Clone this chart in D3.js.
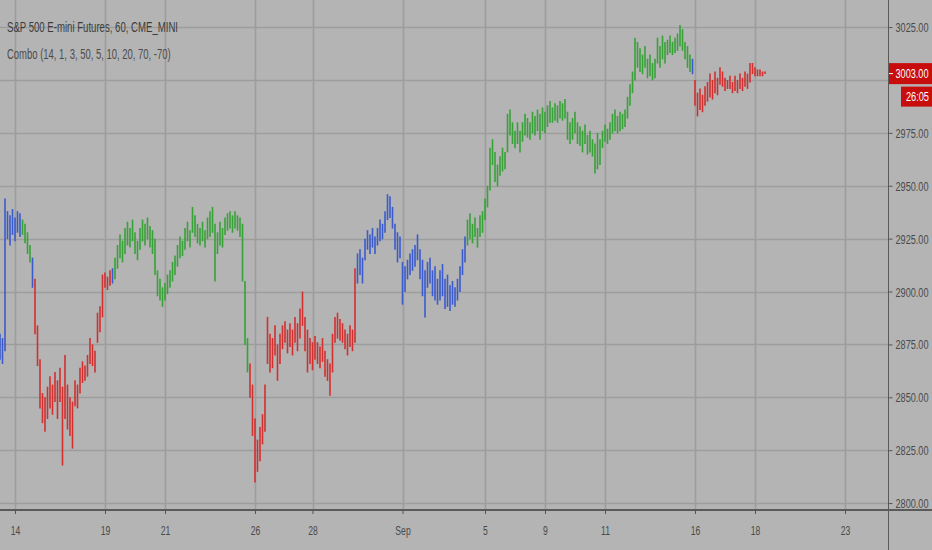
<!DOCTYPE html>
<html><head><meta charset="utf-8">
<script src="https://cdn.jsdelivr.net/npm/d3@7"></script>
<style>html,body{margin:0;padding:0;background:#b4b4b4;overflow:hidden} svg{display:block}</style>
</head><body><svg id="c" width="932" height="550"></svg>
<script>
const title = "S&P 500 E-mini Futures, 60, CME_MINI";
const study = "Combo (14, 1, 3, 50, 5, 10, 20, 70, -70)";
const priceTicks = [2800, 2825, 2850, 2875, 2900, 2925, 2950, 2975, 3000, 3025];
const priceLabels = [2800, 2825, 2850, 2875, 2900, 2925, 2950, 2975, 3025];
const dateLabels = ["14","19","21","26","28","Sep","5","9","11","16","18","23"];
const dateIndex = [6, 42, 66, 102, 125, 161, 194, 218, 242, 278, 302, 338];
const lastPrice = 3003.00;
const countdown = "26:05";

const barHigh = [
2880,2878,2944,2938,2936,2939,2935,2938,2937,2934,2932,2928,2922,2916,2906,2884,2868,2852,2850,2855,
2860,2856,2862,2858,2864,2855,2870,2856,2850,2848,2858,2856,2864,2867,2865,2870,2878,2875,2872,2890,
2893,2908,2909,2907,2910,2911,2916,2922,2927,2924,2930,2933,2930,2934,2928,2924,2930,2934,2932,2935,
2931,2929,2925,2910,2906,2902,2904,2908,2910,2914,2917,2922,2926,2924,2930,2933,2929,2940,2936,2932,
2930,2933,2929,2935,2938,2940,2932,2928,2933,2930,2935,2937,2938,2936,2938,2936,2935,2932,2905,2878,
2866,2856,2840,2830,2836,2842,2856,2888,2880,2878,2884,2875,2880,2884,2886,2882,2885,2882,2888,2885,
2892,2900,2888,2882,2878,2876,2879,2876,2874,2878,2872,2868,2866,2880,2888,2890,2887,2885,2882,2880,
2884,2882,2911,2918,2920,2916,2925,2929,2927,2930,2926,2930,2934,2932,2938,2946,2945,2940,2932,2928,
2926,2914,2912,2915,2918,2920,2922,2927,2920,2915,2910,2914,2916,2910,2912,2906,2910,2913,2906,2908,
2903,2905,2902,2906,2912,2920,2926,2934,2937,2932,2935,2930,2936,2938,2944,2950,2968,2972,2966,2960,
2964,2968,2966,2984,2986,2980,2976,2980,2976,2980,2984,2982,2980,2985,2983,2986,2984,2987,2985,2988,
2990,2987,2989,2988,2990,2989,2991,2985,2980,2982,2985,2980,2978,2976,2979,2974,2976,2972,2970,2975,
2972,2976,2979,2977,2980,2984,2986,2983,2985,2984,2986,2992,2998,3004,3020,3018,3015,3012,3016,3010,
3012,3008,3010,3020,3016,3021,3018,3019,3021,3018,3020,3022,3026,3024,3018,3016,3012,3010,3000,2994,
2996,2993,2997,2999,3003,3000,3004,3001,3006,3004,3001,3000,3002,2999,3002,3000,3003,3001,3004,3003,
3008,3008,3006,3005,3005,3004,3004
];
const barLow = [
2868,2866,2872,2925,2922,2927,2924,2928,2926,2927,2923,2918,2914,2902,2880,2865,2845,2838,2834,2840,
2845,2842,2848,2840,2848,2818,2840,2835,2832,2826,2846,2845,2852,2857,2858,2860,2866,2865,2862,2876,
2881,2888,2902,2901,2903,2904,2906,2911,2916,2914,2918,2922,2921,2924,2918,2915,2920,2924,2922,2925,
2921,2918,2908,2898,2896,2893,2896,2899,2902,2905,2908,2912,2916,2917,2920,2924,2921,2928,2926,2923,
2922,2924,2921,2925,2926,2928,2905,2918,2922,2921,2927,2929,2930,2928,2930,2929,2926,2905,2875,2862,
2850,2832,2810,2815,2820,2828,2834,2866,2862,2864,2870,2858,2866,2873,2876,2871,2874,2870,2876,2872,
2878,2884,2872,2862,2866,2863,2868,2866,2864,2867,2860,2858,2851,2862,2876,2878,2877,2876,2873,2870,
2874,2872,2876,2904,2908,2904,2915,2920,2918,2921,2918,2922,2924,2925,2928,2934,2935,2930,2920,2914,
2916,2894,2900,2906,2908,2910,2912,2915,2906,2898,2888,2902,2904,2898,2896,2894,2896,2898,2892,2893,
2891,2894,2893,2896,2900,2908,2914,2922,2925,2923,2926,2921,2926,2928,2934,2940,2948,2960,2952,2950,
2955,2957,2958,2966,2974,2970,2968,2970,2966,2971,2974,2973,2972,2975,2974,2976,2972,2976,2975,2978,
2980,2980,2981,2980,2982,2981,2982,2972,2970,2972,2975,2970,2969,2966,2970,2965,2966,2964,2956,2958,
2960,2968,2971,2970,2972,2975,2976,2975,2976,2977,2978,2982,2988,2994,3000,3006,3004,3003,3006,3001,
3002,3000,3001,3008,3006,3010,3008,3012,3013,3012,3013,3014,3016,3014,3010,3006,3004,3003,2988,2983,
2986,2985,2988,2990,2992,2991,2994,2993,2998,2997,2995,2996,2996,2994,2995,2994,2996,2995,2997,2996,
2999,3003,3002,3002,3002,3002,3003
];
const segStart = [0, 9, 13, 14, 45, 46, 100, 143, 187, 277, 278];
const segState = ["blue","green","blue","red","blue","green","red","blue","green","blue","red"];
const stateColor = {blue: "#3a5bcc", green: "#37a337", red: "#d22f2f"};

const W = 932, H = 550, plotR = 888, plotB = 509;
const svg = d3.select("#c");
const font = "'Liberation Sans','Open Sans',sans-serif";

// squeeze a text horizontally (narrow UI font look); anchor point stays at (ax, ay)
function squeeze(node, ax, ay, factor) {
  const t = d3.select(node);
  t.attr("x", 0).attr("y", 0).attr("transform", `translate(${ax},${ay}) scale(${factor},1)`);
}
function squeezeTo(node, ax, ay, width) {
  const w = node.getComputedTextLength();
  squeeze(node, ax, ay, width / w);
}

const x = d3.scaleLinear().domain([0, 355.2]).range([0, plotR]);
const y = d3.scaleLinear().domain([2797.2, 3037.8]).range([plotB, 0]);

svg.append("rect").attr("width", W).attr("height", H).attr("fill", "#b4b4b4");

// grid
const grid = svg.append("g");
grid.selectAll("line.h").data(priceTicks).join("line")
  .attr("x1", 0).attr("x2", plotR).attr("y1", d => Math.round(y(d)) + 0.5).attr("y2", d => Math.round(y(d)) + 0.5)
  .attr("stroke", "#9d9d9d").attr("stroke-width", 1.6);
grid.selectAll("line.v").data(dateIndex).join("line")
  .attr("y1", 0).attr("y2", plotB).attr("x1", d => Math.round(x(d)) + 0.5).attr("x2", d => Math.round(x(d)) + 0.5)
  .attr("stroke", "#9d9d9d").attr("stroke-width", 1.6);

// bars
function stateAt(i) {
  let s = segState[0];
  for (let k = 0; k < segStart.length; k++) if (i >= segStart[k]) s = segState[k];
  return s;
}
const bars = barHigh.map((h, i) => ({i, h, l: barLow[i], s: stateAt(i)}));
svg.append("g").selectAll("line").data(bars).join("line")
  .attr("x1", d => x(d.i)).attr("x2", d => x(d.i))
  .attr("y1", d => y(d.h)).attr("y2", d => y(d.l) + 0.5)
  .attr("stroke", d => stateColor[d.s]).attr("stroke-width", 1.6);

// axis lines
svg.append("line").attr("x1", plotR + 0.5).attr("x2", plotR + 0.5).attr("y1", 0).attr("y2", H)
  .attr("stroke", "#5a5a5a").attr("stroke-width", 1);
svg.append("line").attr("x1", 0).attr("x2", W).attr("y1", plotB + 1).attr("y2", plotB + 1)
  .attr("stroke", "#5a5a5a").attr("stroke-width", 2);

// right price axis
const yAxis = d3.axisRight(y).tickValues(priceLabels).tickSize(4).tickPadding(3).tickFormat(d3.format(".2f"));
const ya = svg.append("g").attr("transform", `translate(${plotR + 0.5},0)`).call(yAxis);
ya.select(".domain").remove();
ya.selectAll(".tick line").attr("stroke", "#555");
ya.selectAll(".tick text").attr("fill", "#4a4a4a").style("font-family", font).style("font-size", "12px")
  .attr("dy", null).attr("dominant-baseline", null)
  .each(function() { squeezeTo(this, 7, 4.5, 33); });

// bottom date axis
const xAxis = d3.axisBottom(x).tickValues(dateIndex).tickSize(4).tickPadding(12)
  .tickFormat((d, k) => dateLabels[k]);
const xa = svg.append("g").attr("transform", `translate(0,${plotB + 1})`).call(xAxis);
xa.select(".domain").remove();
xa.selectAll(".tick line").attr("stroke", "#555");
xa.selectAll(".tick text").attr("fill", "#4a4a4a").style("font-family", font).style("font-size", "12px")
  .attr("dy", null).each(function() { squeeze(this, 0, 25, 0.72); });

// last price marker
const ly = y(lastPrice);
svg.append("rect").attr("x", plotR + 1).attr("y", ly - 10.5).attr("width", W - plotR - 1).attr("height", 21).attr("fill", "#c80d0d");
svg.append("line").attr("x1", plotR + 1).attr("x2", plotR + 5).attr("y1", ly).attr("y2", ly).attr("stroke", "#fff");
svg.append("text").text(d3.format(".2f")(lastPrice))
  .attr("fill", "#fff").style("font-family", font).style("font-size", "12px")
  .each(function() { squeezeTo(this, plotR + 7.5, ly + 4.5, 33); });
svg.append("rect").attr("x", 901).attr("y", ly + 13).attr("width", W - 901).attr("height", 20).attr("fill", "#c80d0d");
svg.append("text").text(countdown)
  .attr("fill", "#fff").style("font-family", font).style("font-size", "12px")
  .each(function() { squeezeTo(this, 906, ly + 27.5, 23); });

// legend
svg.append("text").text(title)
  .attr("fill", "#3c3c3c").style("font-family", font).style("font-size", "14px")
  .each(function() { squeezeTo(this, 7, 32, 171); });
svg.append("text").text(study)
  .attr("fill", "#4c4c4c").style("font-family", font).style("font-size", "14px")
  .each(function() { squeezeTo(this, 7, 59, 164); });
</script></body></html>
